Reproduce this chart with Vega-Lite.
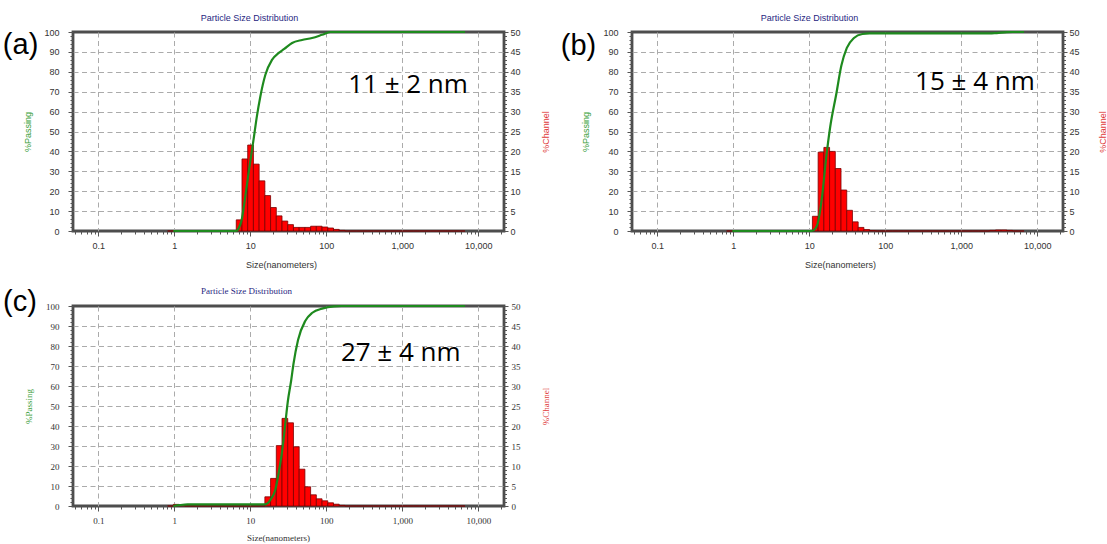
{
  "$schema": "https://vega.github.io/schema/vega-lite/v6.json",
  "padding": {"left": 1, "top": 12, "right": 0, "bottom": 0},
  "background": "white",
  "config": {
    "view": {"stroke": "#4d4d4d", "strokeWidth": 2.8},
    "axis": {"labelFont": "Liberation Sans", "labelFontSize": 9, "labelColor": "#333333", "titleFont": "Liberation Sans", "titleFontSize": 9, "titleFontWeight": "normal", "titleColor": "#333333", "tickColor": "#555555", "tickWidth": 1, "domain": false, "gridColor": "#ababab", "gridDash": [5, 3.5], "gridWidth": 1, "labelOverlap": false, "labelBound": false, "labelFlush": false}
  },
  "datasets": {
    "bins": [
      {"lo": 0.8176, "hi": 0.9723, "a": 0, "b": 0, "c": 0},
      {"lo": 0.9723, "hi": 1.156, "a": 0, "b": 0, "c": 0.4},
      {"lo": 1.156, "hi": 1.375, "a": 0, "b": 0, "c": 0.3},
      {"lo": 1.375, "hi": 1.635, "a": 0, "b": 0, "c": 0},
      {"lo": 1.635, "hi": 1.945, "a": 0, "b": 0, "c": 0},
      {"lo": 1.945, "hi": 2.313, "a": 0, "b": 0, "c": 0},
      {"lo": 2.313, "hi": 2.75, "a": 0, "b": 0, "c": 0},
      {"lo": 2.75, "hi": 3.27, "a": 0, "b": 0, "c": 0},
      {"lo": 3.27, "hi": 3.89, "a": 0, "b": 0, "c": 0},
      {"lo": 3.89, "hi": 4.625, "a": 0, "b": 0, "c": 0},
      {"lo": 4.625, "hi": 5.5, "a": 0, "b": 0, "c": 0},
      {"lo": 5.5, "hi": 6.54, "a": 0, "b": 0, "c": 0},
      {"lo": 6.54, "hi": 7.78, "a": 2.8, "b": 0, "c": 0},
      {"lo": 7.78, "hi": 9.25, "a": 18.1, "b": 0, "c": 0},
      {"lo": 9.25, "hi": 11.0, "a": 21.6, "b": 0, "c": 0},
      {"lo": 11.0, "hi": 13.08, "a": 16.8, "b": 3.7, "c": 0},
      {"lo": 13.08, "hi": 15.56, "a": 12.6, "b": 19.8, "c": 0},
      {"lo": 15.56, "hi": 18.5, "a": 8.9, "b": 21.0, "c": 2.3},
      {"lo": 18.5, "hi": 22.0, "a": 5.9, "b": 20.0, "c": 6.9},
      {"lo": 22.0, "hi": 26.16, "a": 3.8, "b": 15.7, "c": 15.1},
      {"lo": 26.16, "hi": 31.11, "a": 2.5, "b": 10.3, "c": 21.9},
      {"lo": 31.11, "hi": 37.0, "a": 1.6, "b": 5.2, "c": 20.8},
      {"lo": 37.0, "hi": 44.0, "a": 0.9, "b": 2.3, "c": 14.8},
      {"lo": 44.0, "hi": 52.33, "a": 0.9, "b": 0.9, "c": 9.2},
      {"lo": 52.33, "hi": 62.23, "a": 0.9, "b": 0.35, "c": 4.8},
      {"lo": 62.23, "hi": 74.0, "a": 1.2, "b": 0.1, "c": 2.8},
      {"lo": 74.0, "hi": 88.0, "a": 1.2, "b": 0, "c": 1.8},
      {"lo": 88.0, "hi": 104.7, "a": 1.0, "b": 0, "c": 1.3},
      {"lo": 104.7, "hi": 124.5, "a": 0.75, "b": 0, "c": 0.8},
      {"lo": 124.5, "hi": 148.0, "a": 0.4, "b": 0, "c": 0.45},
      {"lo": 148.0, "hi": 176.0, "a": 0.15, "b": 0, "c": 0.15},
      {"lo": 176.0, "hi": 209.3, "a": 0, "b": 0, "c": 0},
      {"lo": 209.3, "hi": 248.9, "a": 0, "b": 0, "c": 0},
      {"lo": 248.9, "hi": 296.0, "a": 0, "b": 0, "c": 0},
      {"lo": 296.0, "hi": 352.0, "a": 0, "b": 0, "c": 0},
      {"lo": 352.0, "hi": 418.6, "a": 0, "b": 0, "c": 0},
      {"lo": 418.6, "hi": 497.8, "a": 0, "b": 0, "c": 0},
      {"lo": 497.8, "hi": 592.0, "a": 0, "b": 0, "c": 0},
      {"lo": 592.0, "hi": 704.0, "a": 0, "b": 0, "c": 0},
      {"lo": 704.0, "hi": 837.2, "a": 0, "b": 0, "c": 0},
      {"lo": 837.2, "hi": 995.6, "a": 0, "b": 0, "c": 0},
      {"lo": 995.6, "hi": 1184, "a": 0, "b": 0, "c": 0},
      {"lo": 1184, "hi": 1408, "a": 0, "b": 0, "c": 0},
      {"lo": 1408, "hi": 1674, "a": 0, "b": 0, "c": 0},
      {"lo": 1674, "hi": 1991, "a": 0, "b": 0, "c": 0},
      {"lo": 1991, "hi": 2368, "a": 0, "b": 0, "c": 0},
      {"lo": 2368, "hi": 2816, "a": 0, "b": 0.15, "c": 0},
      {"lo": 2816, "hi": 3349, "a": 0, "b": 0.25, "c": 0},
      {"lo": 3349, "hi": 3982, "a": 0, "b": 0.25, "c": 0},
      {"lo": 3982, "hi": 4736, "a": 0, "b": 0.15, "c": 0},
      {"lo": 4736, "hi": 5632, "a": 0, "b": 0, "c": 0},
      {"lo": 5632, "hi": 6697, "a": 0, "b": 0, "c": 0}
    ],
    "curve_a": [
      {"size": 0.9723, "pass": 0}, {"size": 6.54, "pass": 0}, {"size": 7.0, "pass": 1.2}, {"size": 7.7, "pass": 5.5},
      {"size": 8.5, "pass": 16}, {"size": 9.25, "pass": 26}, {"size": 10, "pass": 35}, {"size": 11, "pass": 45.5},
      {"size": 12.2, "pass": 57.5}, {"size": 13.55, "pass": 67.5}, {"size": 15.8, "pass": 78.5}, {"size": 19.3, "pass": 86},
      {"size": 23.7, "pass": 89.5}, {"size": 28, "pass": 91.5}, {"size": 35.5, "pass": 94.5}, {"size": 48, "pass": 96},
      {"size": 65, "pass": 97}, {"size": 88, "pass": 98.6}, {"size": 113, "pass": 100}, {"size": 6697, "pass": 100}
    ],
    "curve_b": [
      {"size": 0.9723, "pass": 0}, {"size": 10.8, "pass": 0}, {"size": 12, "pass": 1.2}, {"size": 12.85, "pass": 3.5},
      {"size": 14.7, "pass": 17}, {"size": 16.6, "pass": 36}, {"size": 18.8, "pass": 52}, {"size": 22.7, "pass": 69},
      {"size": 26.4, "pass": 83}, {"size": 31.2, "pass": 92}, {"size": 38.7, "pass": 97}, {"size": 50, "pass": 99},
      {"size": 62, "pass": 99.3}, {"size": 2368, "pass": 99.3}, {"size": 2816, "pass": 99.45}, {"size": 3349, "pass": 99.7},
      {"size": 3982, "pass": 99.9}, {"size": 4736, "pass": 100}, {"size": 6697, "pass": 100}
    ],
    "curve_c": [
      {"size": 0.9723, "pass": 0}, {"size": 1.156, "pass": 0.4}, {"size": 1.5, "pass": 0.8}, {"size": 15.56, "pass": 0.8},
      {"size": 18.5, "pass": 3.2}, {"size": 21.3, "pass": 8}, {"size": 24, "pass": 18}, {"size": 26.16, "pass": 27},
      {"size": 29.4, "pass": 43.8}, {"size": 31.11, "pass": 52}, {"size": 34.6, "pass": 63}, {"size": 37, "pass": 71},
      {"size": 42.5, "pass": 83}, {"size": 52.8, "pass": 92.5}, {"size": 64.8, "pass": 96.5}, {"size": 90.5, "pass": 98.8},
      {"size": 126, "pass": 99.8}, {"size": 158, "pass": 100}, {"size": 6697, "pass": 100}
    ]
  },
  "columns": 2,
  "bounds": "flush",
  "spacing": {"row": 75, "column": 128},
  "concat": [
    {
      "width": 431, "height": 199,
      "title": {"text": "Particle Size Distribution", "frame": "group", "anchor": "middle", "dx": -39, "offset": 5, "fontSize": 9, "font": "Liberation Sans", "fontWeight": "normal", "color": "#27277f"},
      "resolve": {"scale": {"y": "independent"}},
      "layer": [
        {
          "data": {"name": "bins"},
          "mark": {"type": "rect", "fill": "#ff0000", "stroke": "#7a0000", "strokeWidth": 0.8},
          "encoding": {
            "x": {"field": "lo", "type": "quantitative", "title": "Size(nanometers)", "scale": {"type": "log", "domain": [0.0465, 21800], "nice": false},
              "axis": {"values": [0.05,0.06,0.07,0.08,0.09,0.1,0.2,0.3,0.4,0.5,0.6,0.7,0.8,0.9,1,2,3,4,5,6,7,8,9,10,20,30,40,50,60,70,80,90,100,200,300,400,500,600,700,800,900,1000,2000,3000,4000,5000,6000,7000,8000,9000,10000,20000],
                "labelExpr": "(datum.value==0.1||datum.value==1||datum.value==10||datum.value==100||datum.value==1000||datum.value==10000) ? format(datum.value, ',') : ''",
                "grid": true,
                "gridOpacity": {"condition": {"test": "datum.value==0.1||datum.value==1||datum.value==10||datum.value==100||datum.value==1000||datum.value==10000", "value": 1}, "value": 0},
                "tickSize": {"condition": {"test": "datum.value==0.1||datum.value==1||datum.value==10||datum.value==100||datum.value==1000||datum.value==10000", "value": 5}, "value": 3},
                "labelPadding": 5, "titlePadding": 10, "titleX": 208}},
            "x2": {"field": "hi"},
            "y": {"field": "a", "type": "quantitative", "title": "%Channel", "scale": {"domain": [0, 50], "nice": false},
              "axis": {"orient": "right", "titleColor": "#e03a3a", "titleAngle": 270,
                "values": [0,1,2,3,4,5,6,7,8,9,10,11,12,13,14,15,16,17,18,19,20,21,22,23,24,25,26,27,28,29,30,31,32,33,34,35,36,37,38,39,40,41,42,43,44,45,46,47,48,49,50],
                "labelExpr": "datum.value % 5 == 0 ? datum.label : ''", "grid": false,
                "tickSize": {"condition": {"test": "datum.value % 5 == 0", "value": 4}, "value": 2.5},
                "labelPadding": 2, "titlePadding": 30}},
            "y2": {"datum": 0}
          }
        },
        {
          "data": {"name": "curve_a"},
          "mark": {"type": "line", "color": "#1e8a1e", "strokeWidth": 2.2, "interpolate": "monotone"},
          "encoding": {
            "x": {"field": "size", "type": "quantitative", "title": "Size(nanometers)", "scale": {"type": "log", "domain": [0.0465, 21800], "nice": false}},
            "y": {"field": "pass", "type": "quantitative", "title": "%Passing", "scale": {"domain": [0, 100], "nice": false},
              "axis": {"orient": "left", "titleColor": "#3a9e3a",
                "values": [0,2,4,6,8,10,12,14,16,18,20,22,24,26,28,30,32,34,36,38,40,42,44,46,48,50,52,54,56,58,60,62,64,66,68,70,72,74,76,78,80,82,84,86,88,90,92,94,96,98,100],
                "labelExpr": "datum.value % 10 == 0 ? datum.label : ''", "grid": true,
                "gridOpacity": {"condition": {"test": "datum.value % 10 == 0 && datum.value > 0 && datum.value < 100", "value": 1}, "value": 0},
                "tickSize": {"condition": {"test": "datum.value % 10 == 0", "value": 5}, "value": 3},
                "labelPadding": 9, "titlePadding": 11}}
          }
        },
        {
          "data": {"values": [{"size": 1190, "pass": 73.4, "note": "11 ± 2 nm"}]},
          "mark": {"type": "text", "font": "Open Sans", "fontSize": 26, "color": "#000000", "align": "center", "baseline": "middle"},
          "encoding": {
            "x": {"field": "size", "type": "quantitative", "title": "Size(nanometers)", "scale": {"type": "log", "domain": [0.0465, 21800], "nice": false}},
            "y": {"field": "pass", "type": "quantitative", "scale": {"domain": [0, 100], "nice": false}, "axis": null},
            "text": {"field": "note"}
          }
        },
        {
          "data": {"values": [{"size": 0.0095, "pass": 93.5, "note": "(a)"}]},
          "mark": {"type": "text", "font": "Liberation Sans", "fontSize": 29, "color": "#000000", "align": "center", "baseline": "middle"},
          "encoding": {
            "x": {"field": "size", "type": "quantitative", "title": "Size(nanometers)", "scale": {"type": "log", "domain": [0.0465, 21800], "nice": false}},
            "y": {"field": "pass", "type": "quantitative", "scale": {"domain": [0, 100], "nice": false}, "axis": null},
            "text": {"field": "note"}
          }
        }
      ]
    },
    {
      "width": 431, "height": 199,
      "title": {"text": "Particle Size Distribution", "frame": "group", "anchor": "middle", "dx": -38, "offset": 5, "fontSize": 9, "font": "Liberation Sans", "fontWeight": "normal", "color": "#27277f"},
      "resolve": {"scale": {"y": "independent"}},
      "layer": [
        {
          "data": {"name": "bins"},
          "mark": {"type": "rect", "fill": "#ff0000", "stroke": "#7a0000", "strokeWidth": 0.8},
          "encoding": {
            "x": {"field": "lo", "type": "quantitative", "title": "Size(nanometers)", "scale": {"type": "log", "domain": [0.0465, 21800], "nice": false},
              "axis": {"values": [0.05,0.06,0.07,0.08,0.09,0.1,0.2,0.3,0.4,0.5,0.6,0.7,0.8,0.9,1,2,3,4,5,6,7,8,9,10,20,30,40,50,60,70,80,90,100,200,300,400,500,600,700,800,900,1000,2000,3000,4000,5000,6000,7000,8000,9000,10000,20000],
                "labelExpr": "(datum.value==0.1||datum.value==1||datum.value==10||datum.value==100||datum.value==1000||datum.value==10000) ? format(datum.value, ',') : ''",
                "grid": true,
                "gridOpacity": {"condition": {"test": "datum.value==0.1||datum.value==1||datum.value==10||datum.value==100||datum.value==1000||datum.value==10000", "value": 1}, "value": 0},
                "tickSize": {"condition": {"test": "datum.value==0.1||datum.value==1||datum.value==10||datum.value==100||datum.value==1000||datum.value==10000", "value": 5}, "value": 3},
                "labelPadding": 5, "titlePadding": 10, "titleX": 208}},
            "x2": {"field": "hi"},
            "y": {"field": "b", "type": "quantitative", "title": "%Channel", "scale": {"domain": [0, 50], "nice": false},
              "axis": {"orient": "right", "titleColor": "#e03a3a", "titleAngle": 270,
                "values": [0,1,2,3,4,5,6,7,8,9,10,11,12,13,14,15,16,17,18,19,20,21,22,23,24,25,26,27,28,29,30,31,32,33,34,35,36,37,38,39,40,41,42,43,44,45,46,47,48,49,50],
                "labelExpr": "datum.value % 5 == 0 ? datum.label : ''", "grid": false,
                "tickSize": {"condition": {"test": "datum.value % 5 == 0", "value": 4}, "value": 2.5},
                "labelPadding": 2, "titlePadding": 28}},
            "y2": {"datum": 0}
          }
        },
        {
          "data": {"name": "curve_b"},
          "mark": {"type": "line", "color": "#1e8a1e", "strokeWidth": 2.2, "interpolate": "monotone"},
          "encoding": {
            "x": {"field": "size", "type": "quantitative", "title": "Size(nanometers)", "scale": {"type": "log", "domain": [0.0465, 21800], "nice": false}},
            "y": {"field": "pass", "type": "quantitative", "title": "%Passing", "scale": {"domain": [0, 100], "nice": false},
              "axis": {"orient": "left", "titleColor": "#3a9e3a",
                "values": [0,2,4,6,8,10,12,14,16,18,20,22,24,26,28,30,32,34,36,38,40,42,44,46,48,50,52,54,56,58,60,62,64,66,68,70,72,74,76,78,80,82,84,86,88,90,92,94,96,98,100],
                "labelExpr": "datum.value % 10 == 0 ? datum.label : ''", "grid": true,
                "gridOpacity": {"condition": {"test": "datum.value % 10 == 0 && datum.value > 0 && datum.value < 100", "value": 1}, "value": 0},
                "tickSize": {"condition": {"test": "datum.value % 10 == 0", "value": 5}, "value": 3},
                "labelPadding": 9, "titlePadding": 12}}
          }
        },
        {
          "data": {"values": [{"size": 1515, "pass": 74.9, "note": "15 ± 4 nm"}]},
          "mark": {"type": "text", "font": "Open Sans", "fontSize": 26, "color": "#000000", "align": "center", "baseline": "middle"},
          "encoding": {
            "x": {"field": "size", "type": "quantitative", "title": "Size(nanometers)", "scale": {"type": "log", "domain": [0.0465, 21800], "nice": false}},
            "y": {"field": "pass", "type": "quantitative", "scale": {"domain": [0, 100], "nice": false}, "axis": null},
            "text": {"field": "note"}
          }
        },
        {
          "data": {"values": [{"size": 0.0092, "pass": 93, "note": "(b)"}]},
          "mark": {"type": "text", "font": "Liberation Sans", "fontSize": 29, "color": "#000000", "align": "center", "baseline": "middle"},
          "encoding": {
            "x": {"field": "size", "type": "quantitative", "title": "Size(nanometers)", "scale": {"type": "log", "domain": [0.0465, 21800], "nice": false}},
            "y": {"field": "pass", "type": "quantitative", "scale": {"domain": [0, 100], "nice": false}, "axis": null},
            "text": {"field": "note"}
          }
        }
      ]
    },
    {
      "width": 431, "height": 200,
      "title": {"text": "Particle Size Distribution", "frame": "group", "anchor": "middle", "dx": -42, "offset": -8, "fontSize": 9, "font": "Liberation Serif", "fontWeight": "normal", "color": "#27277f"},
      "resolve": {"scale": {"y": "independent"}},
      "layer": [
        {
          "data": {"name": "bins"},
          "mark": {"type": "rect", "fill": "#ff0000", "stroke": "#7a0000", "strokeWidth": 0.8},
          "encoding": {
            "x": {"field": "lo", "type": "quantitative", "title": "Size(nanometers)", "scale": {"type": "log", "domain": [0.0465, 21800], "nice": false},
              "axis": {"values": [0.05,0.06,0.07,0.08,0.09,0.1,0.2,0.3,0.4,0.5,0.6,0.7,0.8,0.9,1,2,3,4,5,6,7,8,9,10,20,30,40,50,60,70,80,90,100,200,300,400,500,600,700,800,900,1000,2000,3000,4000,5000,6000,7000,8000,9000,10000,20000],
                "labelExpr": "(datum.value==0.1||datum.value==1||datum.value==10||datum.value==100||datum.value==1000||datum.value==10000) ? format(datum.value, ',') : ''",
                "grid": true,
                "gridOpacity": {"condition": {"test": "datum.value==0.1||datum.value==1||datum.value==10||datum.value==100||datum.value==1000||datum.value==10000", "value": 1}, "value": 0},
                "tickSize": {"condition": {"test": "datum.value==0.1||datum.value==1||datum.value==10||datum.value==100||datum.value==1000||datum.value==10000", "value": 5}, "value": 3},
                "labelFont": "Liberation Serif", "titleFont": "Liberation Serif",
                "labelPadding": 5, "titlePadding": 8, "titleX": 205}},
            "x2": {"field": "hi"},
            "y": {"field": "c", "type": "quantitative", "title": "%Channel", "scale": {"domain": [0, 50], "nice": false},
              "axis": {"orient": "right", "titleColor": "#e03a3a", "titleAngle": 270,
                "labelFont": "Liberation Serif", "titleFont": "Liberation Serif",
                "values": [0,1,2,3,4,5,6,7,8,9,10,11,12,13,14,15,16,17,18,19,20,21,22,23,24,25,26,27,28,29,30,31,32,33,34,35,36,37,38,39,40,41,42,43,44,45,46,47,48,49,50],
                "labelExpr": "datum.value % 5 == 0 ? datum.label : ''", "grid": false,
                "tickSize": {"condition": {"test": "datum.value % 5 == 0", "value": 4}, "value": 2.5},
                "labelPadding": 3, "titlePadding": 30}},
            "y2": {"datum": 0}
          }
        },
        {
          "data": {"name": "curve_c"},
          "mark": {"type": "line", "color": "#1e8a1e", "strokeWidth": 2.2, "interpolate": "monotone"},
          "encoding": {
            "x": {"field": "size", "type": "quantitative", "title": "Size(nanometers)", "scale": {"type": "log", "domain": [0.0465, 21800], "nice": false}},
            "y": {"field": "pass", "type": "quantitative", "title": "%Passing", "scale": {"domain": [0, 100], "nice": false},
              "axis": {"orient": "left", "titleColor": "#3a9e3a",
                "labelFont": "Liberation Serif", "titleFont": "Liberation Serif",
                "values": [0,2,4,6,8,10,12,14,16,18,20,22,24,26,28,30,32,34,36,38,40,42,44,46,48,50,52,54,56,58,60,62,64,66,68,70,72,74,76,78,80,82,84,86,88,90,92,94,96,98,100],
                "labelExpr": "datum.value % 10 == 0 ? datum.label : ''", "grid": true,
                "gridOpacity": {"condition": {"test": "datum.value % 10 == 0 && datum.value > 0 && datum.value < 100", "value": 1}, "value": 0},
                "tickSize": {"condition": {"test": "datum.value % 10 == 0", "value": 5}, "value": 3},
                "labelPadding": 9, "titlePadding": 12}}
          }
        },
        {
          "data": {"values": [{"size": 955, "pass": 76.5, "note": "27 ± 4 nm"}]},
          "mark": {"type": "text", "font": "Open Sans", "fontSize": 26, "color": "#000000", "align": "center", "baseline": "middle"},
          "encoding": {
            "x": {"field": "size", "type": "quantitative", "title": "Size(nanometers)", "scale": {"type": "log", "domain": [0.0465, 21800], "nice": false}},
            "y": {"field": "pass", "type": "quantitative", "scale": {"domain": [0, 100], "nice": false}, "axis": null},
            "text": {"field": "note"}
          }
        },
        {
          "data": {"values": [{"size": 0.0093, "pass": 102, "note": "(c)"}]},
          "mark": {"type": "text", "font": "Liberation Sans", "fontSize": 29, "color": "#000000", "align": "center", "baseline": "middle"},
          "encoding": {
            "x": {"field": "size", "type": "quantitative", "title": "Size(nanometers)", "scale": {"type": "log", "domain": [0.0465, 21800], "nice": false}},
            "y": {"field": "pass", "type": "quantitative", "scale": {"domain": [0, 100], "nice": false}, "axis": null},
            "text": {"field": "note"}
          }
        }
      ]
    }
  ]
}
